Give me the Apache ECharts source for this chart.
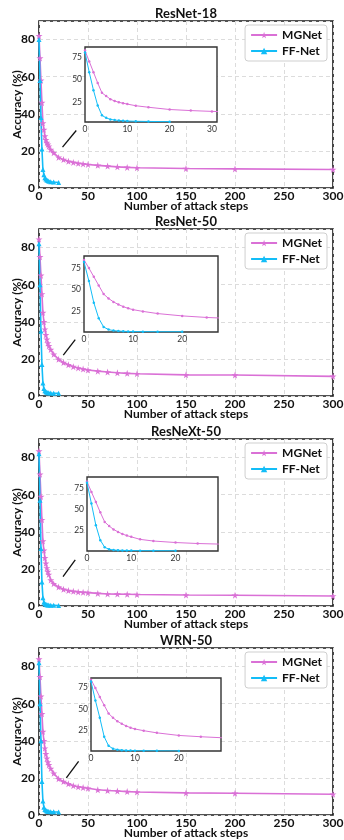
<!DOCTYPE html>
<html>
<head>
<meta charset="utf-8">
<script src="https://cdn.jsdelivr.net/npm/echarts@6/dist/echarts.min.js"></script>
<style>
html, body { margin: 0; padding: 0; background: #fff; }
#main { width: 344px; height: 840px; }
</style>
</head>
<body>
<div id="main"></div>
<script>
// data
const panelTitles = ['ResNet-18', 'ResNet-50', 'ResNeXt-50', 'WRN-50'];
const mgSteps = [0, 1, 2, 3, 4, 5, 6, 7, 8, 9, 10, 12, 15, 20, 25, 30, 35, 40, 45, 50, 60, 70, 80, 90, 100, 150, 200, 300];
const ffSteps = [0, 1, 2, 3, 4, 5, 6, 7, 8, 9, 10, 12, 15, 20];

const mgResNet18 = [82, 70, 58, 46, 35, 31.5, 28, 26, 24.5, 23.5, 22.5, 20.7, 19, 16.5, 15.3, 14.4, 13.8, 13.3, 13, 12.7, 12.2, 11.8, 11.4, 11.1, 10.9, 10.5, 10.3, 10];
const mgResNet50 = [84.5, 75, 65, 55, 45, 40, 36, 33, 30.5, 28.5, 27, 25, 22.5, 19.8, 18, 16.8, 15.8, 15.1, 14.5, 14, 13.4, 12.9, 12.5, 12.2, 12, 11.4, 11.3, 10.6];
const mgResNeXt50 = [83.5, 71, 59, 46.5, 35, 30, 26, 23, 20.5, 18.5, 17, 14, 12, 10.2, 9, 8.3, 7.9, 7.6, 7.4, 7.2, 6.8, 6.5, 6.4, 6.3, 6.2, 5.9, 5.8, 5.4];
const mgWRN50 = [84, 74.5, 64, 54.5, 45, 40, 36, 33, 30.5, 28.5, 27, 25, 22.5, 19.5, 18, 16.8, 15.8, 15.2, 14.8, 14.4, 13.6, 13.2, 12.9, 12.6, 12.4, 11.9, 11.7, 11.2];

const ffResNet18 = [80, 58, 38, 21, 10, 7.2, 5.5, 4.8, 4.3, 4, 3.7, 3.4, 3.2, 3.0];
const ffResNet50 = [82, 60, 35, 17, 7, 4, 2.8, 2.3, 2, 1.8, 1.7, 1.6, 1.5, 1.5];
const ffResNeXt50 = [82, 57, 31, 13, 4.5, 2, 1.2, 0.9, 0.7, 0.6, 0.5, 0.4, 0.4, 0.3];
const ffWRN50 = [82, 60, 40, 18, 7.5, 4.2, 3, 2.5, 2.2, 2, 1.9, 1.8, 1.7, 1.6];

const mgAll = [mgResNet18, mgResNet50, mgResNeXt50, mgWRN50];
const ffAll = [ffResNet18, ffResNet50, ffResNeXt50, ffWRN50];

// main axis ticks
const xTicks = [0, 50, 100, 150, 200, 250, 300];
const yTicks = [0, 20, 40, 60, 80];
// inset (zoom) axes
const insetXMax = [31.2, 27.3, 29.6, 29.6];
const insetYMin = [2.6, 1.2, 0, 1.5];
const insetYMax = [86, 89, 89, 86];
const insetXTicks = [[0, 10, 20, 30], [0, 10, 20], [0, 10, 20], [0, 10, 20]];
const insetYTicks = [25, 50, 75];
// arrow pointing at the zoomed part, in data coords [from, to]
const arrowFrom = [[38, 31], [37, 30.4], [37, 24.8], [40.4, 28.9]];
const arrowTo = [[24, 22], [24.8, 22], [24.5, 15.8], [27.9, 20]];

// layout
const panelTop = [21, 229, 439, 648];
const plotLeft = 39, plotWidth = 294, plotHeight = 167;
const insetBox = [
  { left: 85, top: 47, width: 132, height: 75 },
  { left: 84, top: 256, width: 134, height: 76 },
  { left: 87, top: 477, width: 131, height: 74 },
  { left: 91, top: 678, width: 130, height: 73 }
];

const MG_COLOR = '#DA70D6';
const FF_COLOR = '#13BDF7';
const STAR = 'path://M50,0 L61,35 L98,35 L68,57 L79,91 L50,70 L21,91 L32,57 L2,35 L39,35 Z';
const FONT = 'Lato';

const chart = echarts.init(document.getElementById('main'), null, { renderer: 'canvas' });

const titles = [], grids = [], xAxes = [], yAxes = [], legends = [], series = [];

panelTitles.forEach((name, i) => {
  const top = panelTop[i];
  titles.push({
    text: name,
    left: plotLeft + plotWidth / 2,
    top: top - 14,
    textAlign: 'center',
    padding: 0,
    textStyle: { fontFamily: FONT, fontSize: 13, fontWeight: 'bold', color: '#111' }
  });

  // main plot
  grids.push({
    left: plotLeft, top: top, width: plotWidth, height: plotHeight,
    containLabel: false, outerBoundsMode: 'none',
    show: true, borderColor: '#1a1a1a', borderWidth: 1.6, backgroundColor: '#fff', z: 0
  });
  xAxes.push({
    gridIndex: 2 * i, type: 'value', min: 0, max: 300, interval: 50,
    axisLine: { show: false }, axisTick: { show: false },
    axisLabel: { fontFamily: FONT, fontSize: 12, fontWeight: 'bold', color: '#111', margin: 2,
      formatter: v => (xTicks.includes(v) ? String(v) : '') },
    splitLine: { show: true, lineStyle: { color: '#dcdcdc', type: [4, 3], width: 1 } },
    name: 'Number of attack steps', nameLocation: 'middle', nameGap: 12, nameMoveOverlap: false,
    nameTextStyle: { fontFamily: FONT, fontSize: 12, fontWeight: 'bold', color: '#111' }
  });
  yAxes.push({
    gridIndex: 2 * i, type: 'value', min: 0, max: 90, interval: 20,
    axisLine: { show: false }, axisTick: { show: false },
    axisLabel: { fontFamily: FONT, fontSize: 12, fontWeight: 'bold', color: '#111', margin: 4,
      formatter: v => (yTicks.includes(v) ? String(v) : '') },
    splitLine: { show: true, lineStyle: { color: '#dcdcdc', type: [4, 3], width: 1 } },
    name: 'Accuracy (%)', nameLocation: 'middle', nameGap: 16, nameMoveOverlap: false,
    nameTextStyle: { fontFamily: FONT, fontSize: 12, fontWeight: 'bold', color: '#111' }
  });

  // inset
  const b = insetBox[i];
  grids.push({
    left: b.left, top: b.top, width: b.width, height: b.height,
    containLabel: false, outerBoundsMode: 'none',
    show: true, borderColor: '#333', borderWidth: 1.4, backgroundColor: '#fff', z: 5
  });
  xAxes.push({
    gridIndex: 2 * i + 1, type: 'value', min: 0, max: insetXMax[i], z: 6,
    axisLine: { show: false }, axisTick: { show: false },
    axisLabel: { fontFamily: FONT, fontSize: 8.5, color: '#333', margin: 3, customValues: insetXTicks[i] },
    splitLine: { show: false }
  });
  yAxes.push({
    gridIndex: 2 * i + 1, type: 'value', min: insetYMin[i], max: insetYMax[i], z: 6,
    axisLine: { show: false }, axisTick: { show: false },
    axisLabel: { fontFamily: FONT, fontSize: 8.5, color: '#333', margin: 3, customValues: insetYTicks },
    splitLine: { show: false }
  });

  legends.push({
    orient: 'vertical', right: 17, top: top + 4,
    data: ['MGNet', 'FF-Net'],
    backgroundColor: '#fff', borderColor: '#cfcfcf', borderWidth: 1, borderRadius: 3,
    padding: [4, 5, 4, 5], itemGap: 4, itemWidth: 26, itemHeight: 8,
    textStyle: { fontFamily: FONT, fontSize: 12, fontWeight: 'bold', color: '#111' }
  });

  const mgData = mgSteps.map((s, k) => [s, mgAll[i][k]]);
  const ffData = ffSteps.map((s, k) => [s, ffAll[i][k]]);

  series.push({
    name: 'MGNet', type: 'line', xAxisIndex: 2 * i, yAxisIndex: 2 * i,
    data: mgData, symbol: STAR, symbolSize: 7, showAllSymbol: true,
    lineStyle: { color: MG_COLOR, width: 1.6 },
    itemStyle: { color: MG_COLOR, borderWidth: 0 },
    z: 3,
    markLine: {
      silent: true, symbol: ['none', 'arrow'], symbolSize: [0, 8],
      lineStyle: { color: '#111', width: 1.3, type: 'solid' },
      label: { show: false },
      data: [[{ coord: arrowFrom[i] }, { coord: arrowTo[i] }]]
    }
  });
  series.push({
    name: 'FF-Net', type: 'line', xAxisIndex: 2 * i, yAxisIndex: 2 * i,
    data: ffData, symbol: 'triangle', symbolSize: 5, showAllSymbol: true,
    lineStyle: { color: FF_COLOR, width: 1.6 },
    itemStyle: { color: FF_COLOR, borderWidth: 0 },
    z: 3
  });
  series.push({
    name: 'MGNet', type: 'line', xAxisIndex: 2 * i + 1, yAxisIndex: 2 * i + 1,
    data: mgData, symbol: 'circle', symbolSize: 2.5, showAllSymbol: true, clip: true,
    lineStyle: { color: MG_COLOR, width: 1 },
    itemStyle: { color: MG_COLOR, borderWidth: 0 },
    z: 7
  });
  series.push({
    name: 'FF-Net', type: 'line', xAxisIndex: 2 * i + 1, yAxisIndex: 2 * i + 1,
    data: ffData, symbol: 'circle', symbolSize: 2.5, showAllSymbol: true, clip: true,
    lineStyle: { color: FF_COLOR, width: 1 },
    itemStyle: { color: FF_COLOR, borderWidth: 0 },
    z: 7
  });
});

chart.setOption({
  animation: false,
  backgroundColor: '#fff',
  textStyle: { fontFamily: FONT },
  title: titles,
  grid: grids,
  xAxis: xAxes,
  yAxis: yAxes,
  legend: legends,
  series: series
});
</script>
</body>
</html>
